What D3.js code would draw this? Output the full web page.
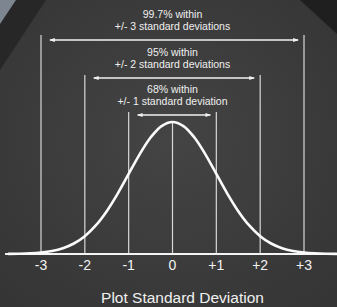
<!DOCTYPE html>
<html>
<head>
<meta charset="utf-8">
<script src="https://cdn.jsdelivr.net/npm/d3@7"></script>
<style>
  body { margin: 0; background: #3a3a3a; }
  svg { display: block; }
</style>
</head>
<body>
<div id="chart"></div>
<script>
const sigmas = [-3, -2, -1, 0, 1, 2, 3];
const tickLabels = ["-3", "-2", "-1", "0", "+1", "+2", "+3"];

// bell curve heights (fraction of peak)
const curveX = [-3.75, -3.5, -3.25, -3, -2.75, -2.5, -2.25, -2, -1.75, -1.5, -1.25, -1, -0.75, -0.5, -0.25,
  0, 0.25, 0.5, 0.75, 1, 1.25, 1.5, 1.75, 2, 2.25, 2.5, 2.75, 3, 3.25, 3.5, 3.75];
const curveH = [0.0009, 0.0022, 0.0051, 0.0111, 0.0228, 0.0439, 0.0796, 0.1353, 0.2163, 0.3247, 0.4578, 0.6065, 0.7548, 0.8825, 0.9692,
  1, 0.9692, 0.8825, 0.7548, 0.6065, 0.4578, 0.3247, 0.2163, 0.1353, 0.0796, 0.0439, 0.0228, 0.0111, 0.0051, 0.0022, 0.0009];

const bandK = [3, 2, 1];
const bandPct = ["99.7% within", "95% within", "68% within"];
const bandText = ["+/- 3 standard deviations", "+/- 2 standard deviations", "+/- 1 standard deviation"];

const width = 337;
const height = 307;

const x = d3.scaleLinear().domain([-3, 3]).range([41, 304]);
const y = d3.scaleLinear().domain([0, 1]).range([254, 122]);

const svg = d3.select("#chart")
  .append("svg")
  .attr("width", width)
  .attr("height", height);

const defs = svg.append("defs");
const grad = defs.append("radialGradient")
  .attr("id", "bg")
  .attr("cx", "50%").attr("cy", "45%").attr("r", "70%");
grad.append("stop").attr("offset", "0%").attr("stop-color", "#444444");
grad.append("stop").attr("offset", "100%").attr("stop-color", "#353535");

defs.append("marker")
  .attr("id", "arrow")
  .attr("viewBox", "0 0 6 6")
  .attr("refX", 5).attr("refY", 3)
  .attr("markerWidth", 4.5).attr("markerHeight", 4.5)
  .attr("orient", "auto-start-reverse")
  .append("path")
  .attr("d", "M0,1 L6,3 L0,5 Z")
  .attr("fill", "#f2f2f2");

svg.append("rect")
  .attr("width", width).attr("height", height)
  .attr("fill", "url(#bg)");

// dark corners of the photo
svg.append("path")
  .attr("d", "M0,0 L46,0 L0,70 Z")
  .attr("fill", "#272727");
svg.append("path")
  .attr("d", "M0,0 L16,0 L0,24 Z")
  .attr("fill", "#7d8590");
svg.append("path")
  .attr("d", "M300,0 L337,0 L337,34 Z")
  .attr("fill", "#1f1f1f");

// vertical sigma lines
const lineTop = { 3: 35, 2: 75, 1: 112 };
svg.selectAll(".vline")
  .data(sigmas)
  .join("line")
  .attr("class", "vline")
  .attr("x1", d => x(d)).attr("x2", d => x(d))
  .attr("y1", d => d === 0 ? y(1) : lineTop[Math.abs(d)])
  .attr("y2", y(0))
  .attr("stroke", "#d8d8d8")
  .attr("stroke-width", 1.2);

// baseline
svg.append("line")
  .attr("x1", x(-3.82)).attr("x2", width)
  .attr("y1", y(0)).attr("y2", y(0))
  .attr("stroke", "#f4f4f4")
  .attr("stroke-width", 2);

// bell curve
const line = d3.line()
  .x((d, i) => x(d))
  .y((d, i) => y(curveH[i]))
  .curve(d3.curveCatmullRom);

svg.append("path")
  .datum(curveX)
  .attr("d", line)
  .attr("fill", "none")
  .attr("stroke", "#fafafa")
  .attr("stroke-width", 2.6);

// band arrows and labels
const arrowY = { 3: 40, 2: 78, 1: 115 };
bandK.forEach((k, i) => {
  svg.append("line")
    .attr("x1", x(-k) + 9).attr("x2", x(k) - 6)
    .attr("y1", arrowY[k]).attr("y2", arrowY[k])
    .attr("stroke", "#f2f2f2")
    .attr("stroke-width", 1.3)
    .attr("marker-start", "url(#arrow)")
    .attr("marker-end", "url(#arrow)");

  svg.append("text")
    .attr("x", x(0)).attr("y", arrowY[k] - 22)
    .attr("text-anchor", "middle")
    .attr("font-family", "Liberation Sans, Arial, sans-serif")
    .attr("font-size", "10.5px")
    .attr("fill", "#f0f0f0")
    .text(bandPct[i]);

  svg.append("text")
    .attr("x", x(0)).attr("y", arrowY[k] - 10)
    .attr("text-anchor", "middle")
    .attr("font-family", "Liberation Sans, Arial, sans-serif")
    .attr("font-size", "10.5px")
    .attr("fill", "#f0f0f0")
    .text(bandText[i]);
});

// tick labels
svg.selectAll(".tick")
  .data(sigmas)
  .join("text")
  .attr("class", "tick")
  .attr("x", d => x(d))
  .attr("y", 270)
  .attr("text-anchor", "middle")
  .attr("font-family", "Liberation Sans, Arial, sans-serif")
  .attr("font-size", "14px")
  .attr("fill", "#f2f2f2")
  .text((d, i) => tickLabels[i]);

svg.append("text")
  .attr("x", x(0) + 10).attr("y", 303)
  .attr("text-anchor", "middle")
  .attr("font-family", "Liberation Sans, Arial, sans-serif")
  .attr("font-size", "15.5px")
  .attr("fill", "#f0f0f0")
  .text("Plot Standard Deviation");
</script>
</body>
</html>
